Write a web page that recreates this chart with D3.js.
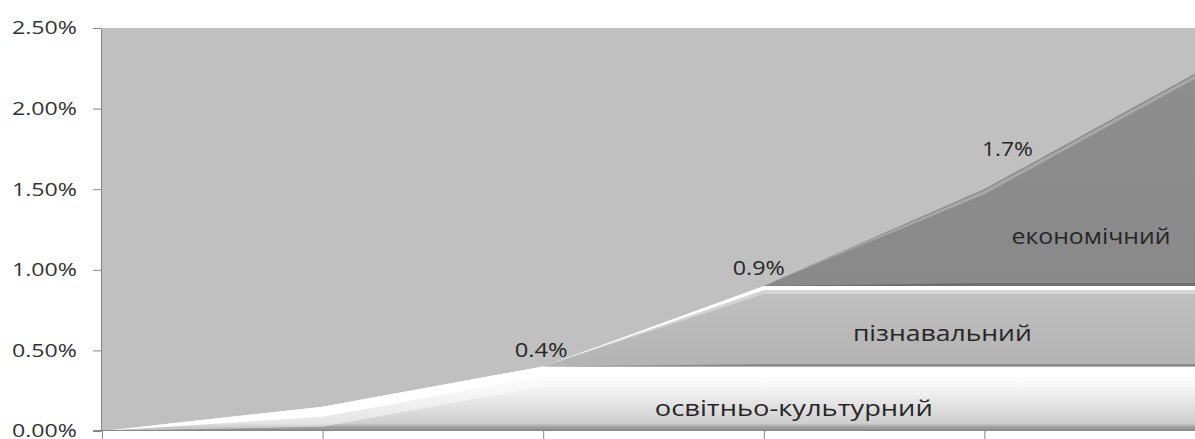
<!DOCTYPE html>
<html>
<head>
<meta charset="utf-8">
<script src="https://cdn.jsdelivr.net/npm/d3@7"></script>
<style>
  body { margin: 0; background: #fff; overflow: hidden; }
  svg { display: block; }
  text { font-family: "Open Sans", sans-serif; }
</style>
</head>
<body>
<div id="chart"></div>
<script>
// Data (values are fractions, shown as %)
const categories = ["1", "2", "3", "4", "5", "6"];
const seriesNames = ["освітньо-культурний", "пізнавальний", "економічний"];
const eduValues = [0, 0.0015, 0.004, 0.004, 0.004, 0.004];
const cogValues = [0, 0, 0, 0.005, 0.005, 0.005];
const ecoValues = [0, 0, 0, 0, 0.006, 0.0135];
const yTicks = [0, 0.005, 0.01, 0.015, 0.02, 0.025];
const labelCats = ["3", "4", "5"];
const labelValues = [0.004, 0.009, 0.017];
const labelTexts = ["0.4%", "0.9%", "1.7%"];

const WIDTH = 1195, HEIGHT = 439;
const plot = {left: 102, right: 1205, top: 28, bottom: 431};

// build table for the stack
let table = categories.map(function(c, i) {
  let row = {cat: c};
  row[seriesNames[0]] = eduValues[i];
  row[seriesNames[1]] = cogValues[i];
  row[seriesNames[2]] = ecoValues[i];
  return row;
});
let stacked = d3.stack().keys(seriesNames)(table);

let x = d3.scalePoint().domain(categories).range([plot.left, plot.right]);
let y = d3.scaleLinear().domain([0, 0.025]).range([plot.bottom, plot.top]);

let svg = d3.select("#chart").append("svg")
  .attr("width", WIDTH)
  .attr("height", HEIGHT);

let defs = svg.append("defs");

// background of plot area
svg.append("rect")
  .attr("x", plot.left)
  .attr("y", plot.top)
  .attr("width", plot.right - plot.left)
  .attr("height", plot.bottom - plot.top)
  .attr("fill", "#c0c0c0");

// gradient stops of each layer
let looks = [
  [[0, "#ffffff"], [0.4, "#f0f0f0"], [0.88, "#cecece"], [0.93, "#a6a6a6"], [1, "#8a8a8a"]],
  [[0, "#c0c0c0"], [0.5, "#b5b5b5"], [1, "#a8a8a8"]],
  [[0, "#8e8e8e"], [0.9, "#878787"], [1, "#808080"]]
];

let area = d3.area()
  .x(function(d) { return x(d.data.cat); })
  .y0(function(d) { return y(d[0]); })
  .y1(function(d) { return y(d[1]); });

// bevel strip just under the top edge of a layer
function topStrip(layer, off, thick) {
  return d3.area()
    .x(function(d) { return x(d.data.cat); })
    .y1(function(d) { return Math.min(y(d[1]) + off, y(d[0])); })
    .y0(function(d) { return Math.min(y(d[1]) + off + thick, y(d[0])); })(layer);
}
// shadow strip just above the bottom edge of a layer
function bottomStrip(layer, thick) {
  return d3.area()
    .x(function(d) { return x(d.data.cat); })
    .y0(function(d) { return y(d[0]); })
    .y1(function(d) { return Math.max(y(d[0]) - thick, y(d[1])); })(layer);
}

stacked.forEach(function(layer, i) {
  let yTop = y(d3.max(layer, function(d) { return d[1]; }));
  let yBot = y(d3.min(layer, function(d) { return d[0]; }));

  let grad = defs.append("linearGradient")
    .attr("id", "grad" + i)
    .attr("gradientUnits", "userSpaceOnUse")
    .attr("x1", 0).attr("x2", 0)
    .attr("y1", yTop).attr("y2", yBot);
  looks[i].forEach(function(s) {
    grad.append("stop").attr("offset", s[0]).attr("stop-color", s[1]);
  });

  let g = svg.append("g");
  g.append("path")
    .attr("d", area(layer))
    .attr("fill", "url(#grad" + i + ")");

  if (i === 0) {
    g.append("path").attr("d", topStrip(layer, 0, 20)).attr("fill", "#ffffff").attr("fill-opacity", 0.45);
    g.append("path").attr("d", topStrip(layer, 0, 10)).attr("fill", "#ffffff");
  }
  if (i === 1) {
    g.append("path").attr("d", topStrip(layer, 0, 8)).attr("fill", "#ffffff").attr("fill-opacity", 0.35);
    g.append("path").attr("d", topStrip(layer, 0, 4)).attr("fill", "#ffffff");
    g.append("path").attr("d", bottomStrip(layer, 2.5)).attr("fill", "#8a8a8a");
  }
  if (i === 2) {
    g.append("path").attr("d", topStrip(layer, 0, 1.5)).attr("fill", "#8c8c8c");
    g.append("path").attr("d", topStrip(layer, 1.5, 3.5)).attr("fill", "#a8a8a8");
    g.append("path").attr("d", bottomStrip(layer, 3)).attr("fill", "#6e6e6e");
  }
});

// axes
let axisColor = "#868686";
let yAxis = svg.append("g")
  .attr("transform", `translate(${plot.left - 1}, 0)`)
  .call(d3.axisLeft(y).tickValues(yTicks).tickSize(8).tickSizeOuter(0)
    .tickFormat(d3.format(".2%")));
yAxis.selectAll("path, line").attr("stroke", axisColor);
yAxis.selectAll("text")
  .attr("x", -24)
  .attr("textLength", 65)
  .attr("lengthAdjust", "spacingAndGlyphs")
  .style("font-size", "18.5px")
  .attr("fill", "#333");

let xAxis = svg.append("g")
  .attr("transform", `translate(0, ${plot.bottom - 1})`)
  .call(d3.axisBottom(x).tickSize(9).tickSizeOuter(0).tickFormat(""));
xAxis.selectAll("path, line").attr("stroke", axisColor);
xAxis.select(".domain").attr("d", `M${plot.left - 9},0.5H${plot.right}`);

// value labels
let labelDx = [-2, -5, 23];
let labelDy = [-10, -11, -1];
let labelLen = [53, 52, 51];
svg.append("g").selectAll("text")
  .data(labelTexts)
  .enter()
  .append("text")
  .attr("x", function(d, i) { return x(labelCats[i]) + labelDx[i]; })
  .attr("y", function(d, i) { return y(labelValues[i]) + labelDy[i]; })
  .attr("textLength", function(d, i) { return labelLen[i]; })
  .attr("lengthAdjust", "spacingAndGlyphs")
  .style("text-anchor", "middle")
  .style("font-size", "20.5px")
  .attr("fill", "#262626")
  .text(function(d) { return d; });

// series names inside the bands
let nameCats = ["4", "5", "6"];
let nameDx = [30, -42, -114];
let nameMid = [0.002, 0.0065, 0.0121];
let nameDy = [17, 15, 8];
let nameLen = [278, 179, 159];
svg.append("g").selectAll("text")
  .data(seriesNames)
  .enter()
  .append("text")
  .attr("x", function(d, i) { return x(nameCats[i]) + nameDx[i]; })
  .attr("y", function(d, i) { return y(nameMid[i]) + nameDy[i]; })
  .attr("textLength", function(d, i) { return nameLen[i]; })
  .attr("lengthAdjust", "spacingAndGlyphs")
  .style("text-anchor", "middle")
  .style("font-size", "21.5px")
  .attr("fill", "#262626")
  .text(function(d) { return d; });
</script>
</body>
</html>
